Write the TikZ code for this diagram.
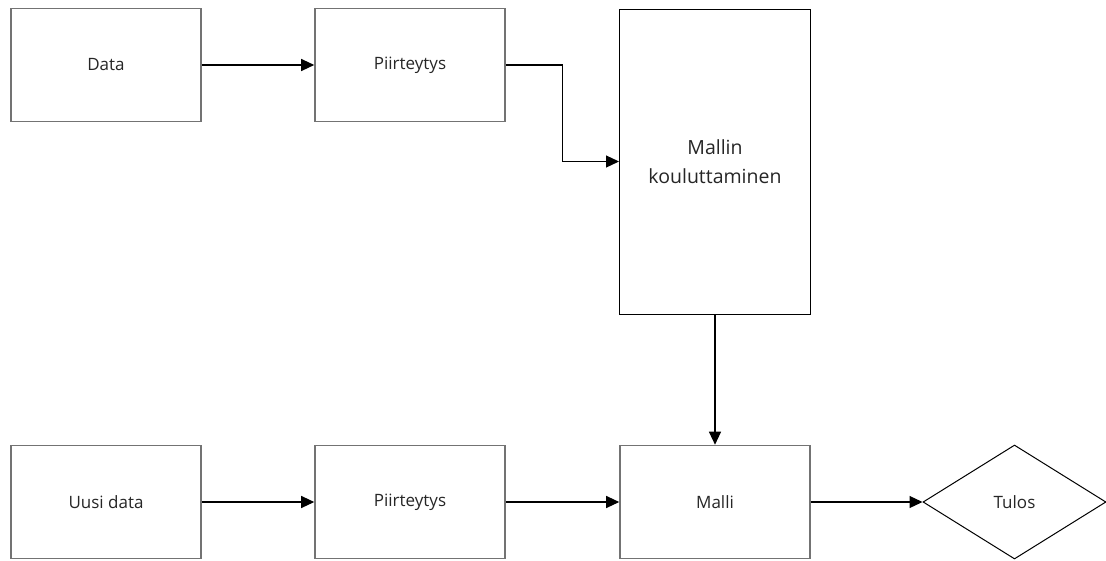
\documentclass[tikz,border=0pt]{standalone}
\usepackage{fontspec}
\setmainfont{Open Sans}
\usetikzlibrary{arrows.meta,shapes.geometric}
\begin{document}
\begin{tikzpicture}[x=1pt,y=-1pt,
  graybox/.style={draw=black!55,line width=1.6pt,fill=white,minimum width=190pt,minimum height=113pt,inner sep=0pt,text=black!85,font=\fontsize{17}{20}\selectfont},
  blackbox/.style={draw=black,line width=1pt,fill=white,inner sep=0pt,text=black!85,align=center,font=\fontsize{19.5}{29}\selectfont},
  arr/.style={draw=black,line width=1.2pt,-{Triangle[length=13pt,width=12pt]}}
]
\useasboundingbox (0,0) rectangle (1106,560);
\fill[white] (0,0) rectangle (1106,560);
\node[graybox] (data) at (106,65) {Data};
\node[graybox] (p1) at (410,65) {Piirteytys};
\node[blackbox,minimum width=191pt,minimum height=305pt] (train) at (715,161.5) {Mallin\\kouluttaminen};
\node[graybox] (new) at (106,502) {Uusi data};
\node[graybox] (p2) at (410,502) {Piirteytys};
\node[graybox] (malli) at (715,502) {Malli};
\node[diamond,draw=black,line width=1pt,fill=white,minimum width=183pt,minimum height=114pt,aspect=1.6,inner sep=0pt,text=black!85,font=\fontsize{17}{20}\selectfont] (tulos) at (1014.5,502) {Tulos};
\draw[arr] (data.east) -- (p1.west);
\draw[arr] (p1.east) -- ++(57,0) |- (train.west);
\draw[arr] (train.south) -- (malli.north);
\draw[arr] (new.east) -- (p2.west);
\draw[arr] (p2.east) -- (malli.west);
\draw[arr] (malli.east) -- (tulos.west);
\end{tikzpicture}
\end{document}
